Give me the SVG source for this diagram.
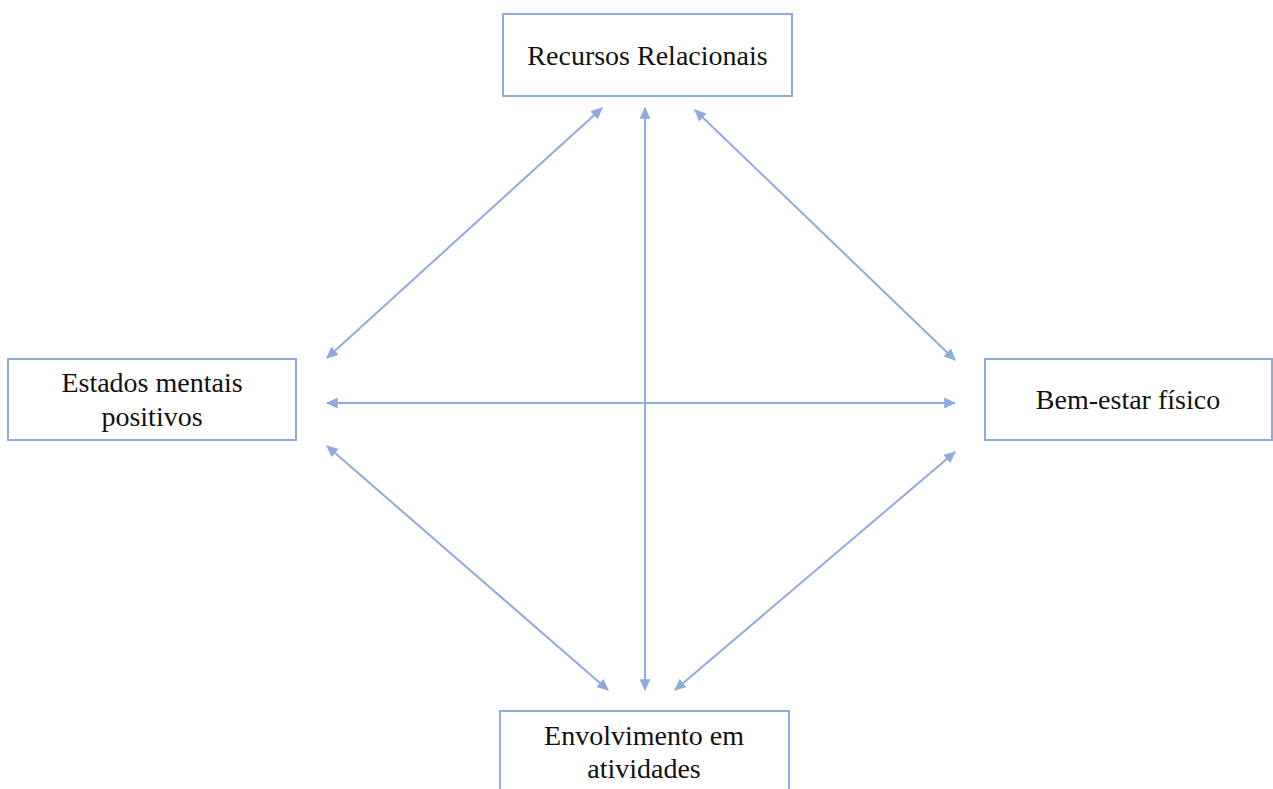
<svg xmlns="http://www.w3.org/2000/svg" width="1273" height="789" viewBox="0 0 1273 789">
<style>
.box{fill:#fff;stroke:#8faadc;stroke-width:2}
.t{font-family:"Liberation Serif","Times New Roman",serif;font-size:28px;fill:#111;text-anchor:middle}
.c{stroke:#8faadc;stroke-width:2;fill:none;marker-start:url(#a);marker-end:url(#a)}
</style>
<defs>
<marker id="a" viewBox="0 0 10 10" refX="9" refY="5" markerWidth="6" markerHeight="6" orient="auto-start-reverse" markerUnits="strokeWidth">
<path d="M0,0.5 L10,5 L0,9.5 z" fill="#8faadc"/>
</marker>
</defs>
<rect width="1273" height="789" fill="#fff"/>
<g id="n-top"><rect class="box" x="503" y="14" width="289" height="82"/><text class="t" x="647.5" y="65">Recursos Relacionais</text></g>
<g id="n-left"><rect class="box" x="8" y="359" width="288" height="81"/><text class="t" x="152" y="392">Estados mentais</text><text class="t" x="152" y="426">positivos</text></g>
<g id="n-right"><rect class="box" x="985" y="359" width="287" height="81"/><text class="t" x="1128" y="409">Bem-estar físico</text></g>
<g id="n-bottom"><rect class="box" x="500" y="711" width="289" height="90"/><text class="t" x="644" y="745">Envolvimento em</text><text class="t" x="644" y="778">atividades</text></g>
<g id="connectors">
<line class="c" x1="602" y1="108" x2="327" y2="358"/>
<line class="c" x1="645" y1="108" x2="645" y2="690"/>
<line class="c" x1="695" y1="110" x2="955" y2="360"/>
<line class="c" x1="327" y1="403" x2="955" y2="403"/>
<line class="c" x1="327" y1="446" x2="608" y2="690"/>
<line class="c" x1="955" y1="452" x2="675" y2="690"/>
</g>
</svg>
